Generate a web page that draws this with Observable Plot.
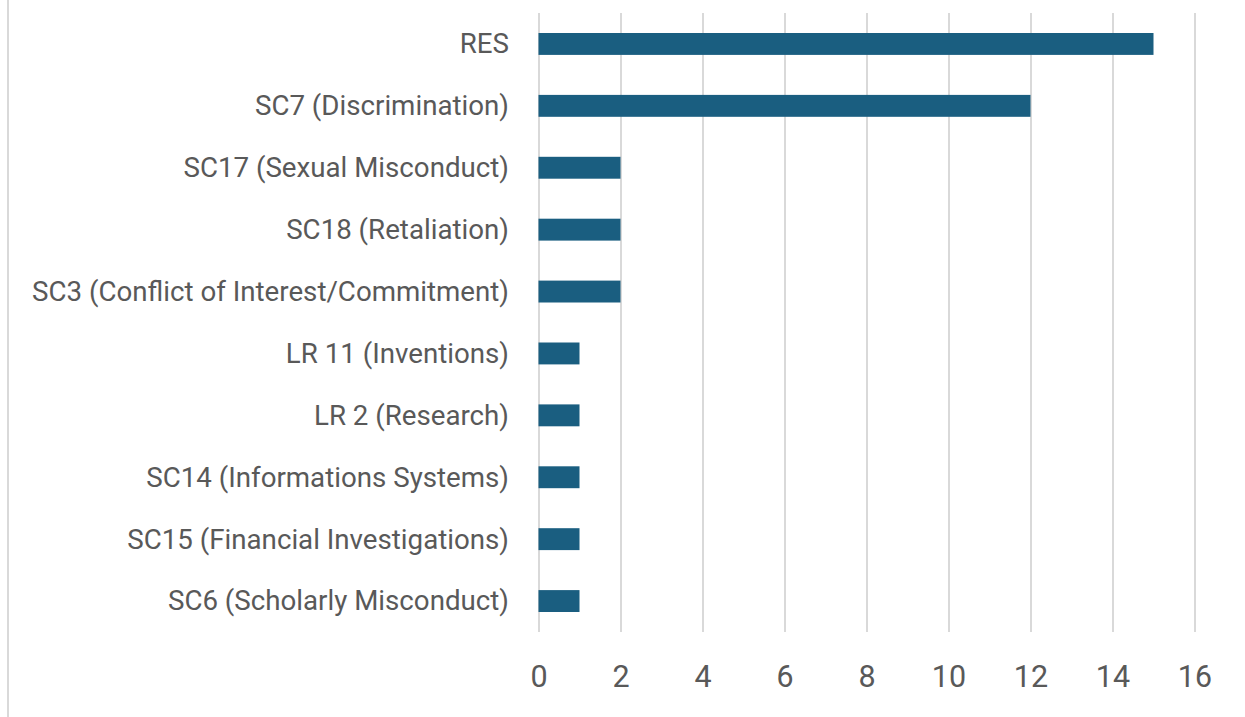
<!DOCTYPE html>
<html>
<head>
<meta charset="utf-8">
<script src="https://cdn.jsdelivr.net/npm/d3@7"></script>
<script src="https://cdn.jsdelivr.net/npm/@observablehq/plot@0.6"></script>
<style>
  html, body { margin: 0; padding: 0; background: #fff; }
  #wrap { position: relative; width: 1245px; height: 717px; overflow: hidden; }
  #edge { position: absolute; left: 7px; top: 0; width: 2px; height: 717px; background: #d9d9d9; }
  #chart { position: absolute; left: 0; top: 0; }
</style>
</head>
<body>
<div id="wrap"><div id="edge"></div><div id="chart"></div></div>
<script>
const categories = [
  "RES",
  "SC7 (Discrimination)",
  "SC17 (Sexual Misconduct)",
  "SC18 (Retaliation)",
  "SC3 (Conflict of Interest/Commitment)",
  "LR 11 (Inventions)",
  "LR 2 (Research)",
  "SC14 (Informations Systems)",
  "SC15 (Financial Investigations)",
  "SC6 (Scholarly Misconduct)"
];
const counts = [15, 12, 2, 2, 2, 1, 1, 1, 1, 1];
const xTicks = [0, 2, 4, 6, 8, 10, 12, 14, 16];

const data = categories.map((c, i) => ({category: c, count: counts[i]}));

const chart = Plot.plot({
  width: 1245,
  height: 717,
  marginLeft: 538.5,
  marginRight: 50.5,
  marginTop: 13,
  marginBottom: 85,
  style: {fontFamily: "Roboto, 'Liberation Sans', sans-serif", color: "#595959", background: "transparent"},
  x: {domain: [0, 16], ticks: xTicks},
  y: {domain: categories, padding: 0, round: false},
  marks: [
    Plot.gridX(xTicks, {stroke: "#d9d9d9", strokeWidth: 2, strokeOpacity: 1}),
    Plot.barX(data, {x: "count", y: "category", fill: "#1a5e80", insetTop: 20, insetBottom: 20}),
    Plot.axisX(xTicks, {tickSize: 0, tickPadding: 33, fontSize: 30.5, fill: "#595959", label: null, tickFormat: d => String(d)}),
    Plot.axisY({tickSize: 0, tickPadding: 30, fontSize: 27.7, fill: "#595959", label: null})
  ]
});
document.getElementById("chart").appendChild(chart);
</script>
</body>
</html>
